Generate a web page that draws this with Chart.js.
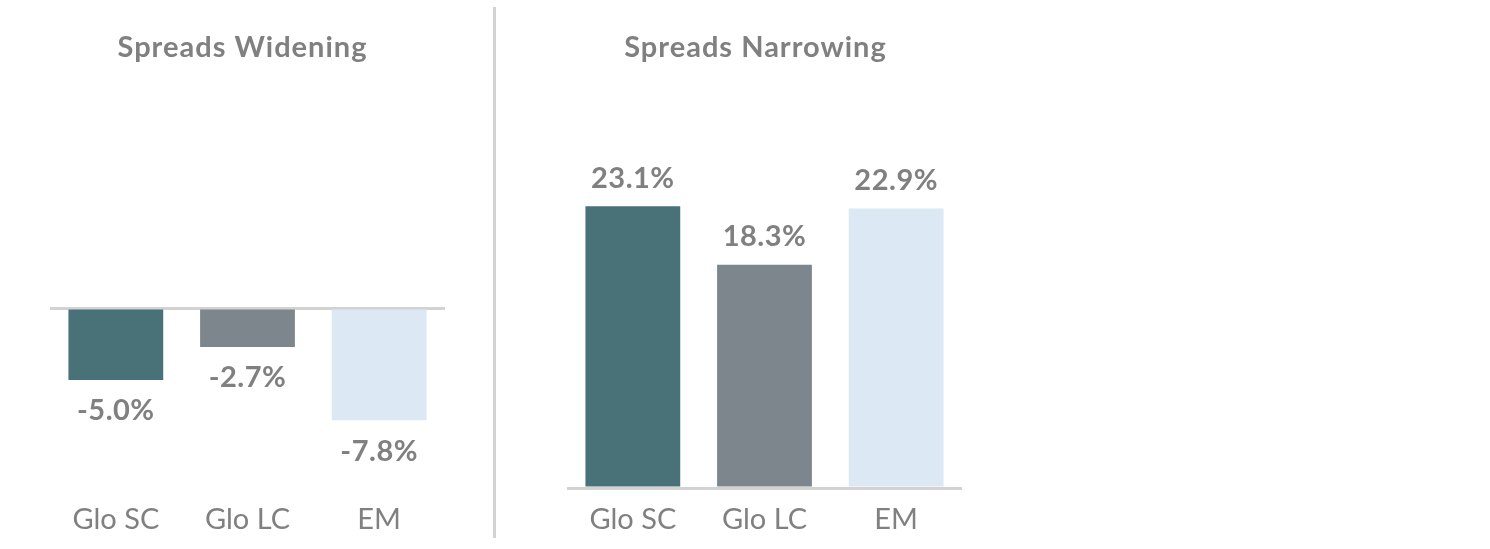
<!DOCTYPE html>
<html>
<head>
<meta charset="utf-8">
<script src="https://cdn.jsdelivr.net/npm/chart.js@4/dist/chart.umd.min.js"></script>
<style>
  html, body { margin: 0; padding: 0; background: #fff; }
  #page { position: relative; width: 1490px; height: 549px; overflow: hidden; }
  #leftWrap { position: absolute; left: 0; top: 0; width: 494px; height: 549px; }
  #rightWrap { position: absolute; left: 494px; top: 0; width: 520px; height: 549px; }
  #divider { position: absolute; left: 493px; top: 7px; width: 3px; height: 531px; background: #d2d2d2; }
</style>
</head>
<body>
<div id="page">
  <div id="leftWrap"><canvas id="wideningChart"></canvas></div>
  <div id="divider"></div>
  <div id="rightWrap"><canvas id="narrowingChart"></canvas></div>
</div>
<script>
// Chart data
const categories = ['Glo SC', 'Glo LC', 'EM'];
const wideningValues = [-5.0, -2.7, -7.8];
const narrowingValues = [23.1, 18.3, 22.9];
const barColors = ['#487278', '#7c868c', '#dce9f4'];

const textGrey = '#808080';
const fontFamily = 'Lato, "Open Sans", sans-serif';

// Title + value labels drawn on top of the bars
const labelPlugin = {
    id: 'labelPlugin',
    afterDatasetsDraw(chart, args, opts) {
        const ctx = chart.ctx;
        const area = chart.chartArea;
        ctx.save();
        ctx.fillStyle = textGrey;
        ctx.textAlign = 'center';
        ctx.textBaseline = 'middle';

        // title
        ctx.font = 'bold 29px ' + fontFamily;
        ctx.letterSpacing = '1px';
        ctx.fillText(opts.title, (area.left + area.right) / 2 + opts.titleShift, 48);

        // value labels
        ctx.font = 'bold 29px ' + fontFamily;
        ctx.letterSpacing = '0.5px';
        const meta = chart.getDatasetMeta(0);
        meta.data.forEach((bar, i) => {
            const v = chart.data.datasets[0].data[i];
            const y = v < 0 ? bar.y + 31 : bar.y - 28;
            ctx.fillText(v.toFixed(1) + '%', bar.x, y);
        });
        ctx.restore();
    }
};

function makeChart(id, values, yMin, yMax, padding, title, titleShift) {
    return new Chart(document.getElementById(id), {
        type: 'bar',
        data: {
            labels: categories,
            datasets: [{
                data: values,
                backgroundColor: barColors,
                borderWidth: 0,
                categoryPercentage: 1,
                barPercentage: 0.72
            }]
        },
        options: {
            responsive: true,
            maintainAspectRatio: false,
            animation: false,
            layout: { padding: padding },
            plugins: {
                legend: { display: false },
                tooltip: { enabled: false },
                labelPlugin: { title: title, titleShift: titleShift }
            },
            scales: {
                x: {
                    grid: { display: false },
                    border: { display: false },
                    ticks: {
                        color: textGrey,
                        font: { family: fontFamily, size: 29 },
                        padding: 6
                    },
                    afterFit: (scale) => { scale.height = 50; }
                },
                y: {
                    min: yMin,
                    max: yMax,
                    border: { display: false },
                    ticks: { display: false, stepSize: 5 },
                    grid: {
                        drawTicks: false,
                        lineWidth: 3,
                        color: (c) => (c.tick && c.tick.value === 0) ? '#d2d2d2' : 'rgba(0,0,0,0)'
                    },
                    afterFit: (scale) => { scale.width = 0; }
                }
            }
        },
        plugins: [labelPlugin]
    });
}

// Left: spreads widening, zero line near top
makeChart('wideningChart', wideningValues, -12.5, 0,
    { top: 308, bottom: 11, left: 50, right: 49 }, 'Spreads Widening', -5);

// Right: spreads narrowing, zero line at bottom
makeChart('narrowingChart', narrowingValues, 0, 25,
    { top: 183, bottom: 11, left: 73, right: 52 }, 'Spreads Narrowing', -9);
</script>
</body>
</html>
